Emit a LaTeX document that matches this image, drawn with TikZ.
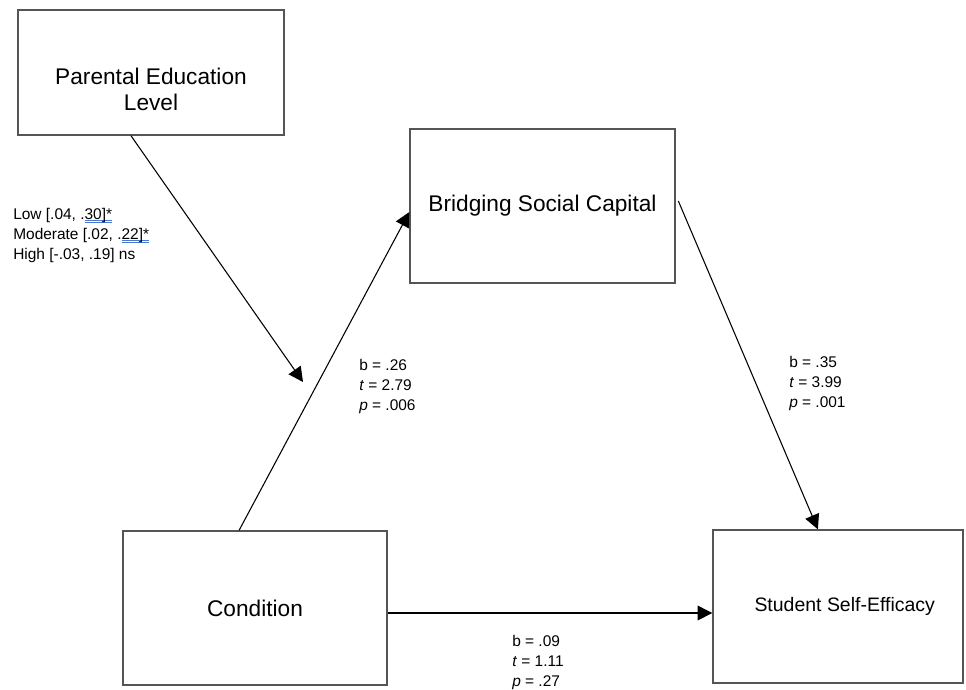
\documentclass[tikz,border=0pt]{standalone}
\usepackage{fontspec}
\setmainfont{Liberation Sans}
\usetikzlibrary{arrows.meta, positioning, calc}
\definecolor{ink}{HTML}{000000}
\definecolor{frame}{HTML}{555555}
\definecolor{spell}{HTML}{4A78D0}
\newcommand{\spellmark}[1]{\setbox0=\hbox{#1}%
  \rlap{\color{spell}\rule[-1.4pt]{\wd0}{0.5pt}}%
  \rlap{\color{spell}\rule[-3.0pt]{\wd0}{0.5pt}}\box0}
\tikzset{
  box/.style={draw=frame, line width=1pt, fill=white, align=center,
              inner sep=4pt, font=\fontsize{17}{19.5}\selectfont, text=ink},
  boxtext/.style={align=center, inner sep=0pt, font=\fontsize{17}{19.5}\selectfont, text=ink},
  stat/.style={align=left, anchor=west, inner sep=0pt,
               font=\fontsize{11.6}{15}\selectfont, text=ink},
  fl/.style={-{Triangle[length=11pt, width=11pt]}, line width=0.8pt, draw=ink},
}
\begin{document}
\begin{tikzpicture}[x=0.75pt, y=-0.75pt]
  \useasboundingbox (0,0) rectangle (966,689);
  % boxes
  \node[box, minimum width=199.5pt, minimum height=93.75pt] (par) at (151,72.5) {};
  \node[boxtext] (partxt) at (151,89) {Parental Education\\Level};
  \node[box, minimum width=198.75pt, minimum height=115.5pt] (bsc) at (542.5,206)
    {Bridging Social Capital};
  \node[box, minimum width=198pt, minimum height=115.5pt] (cond) at (255,608)
    {Condition};
  \node[box, minimum width=187.5pt, minimum height=114.75pt,
        font=\fontsize{14.6}{17}\selectfont] (sse) at (838,606.5)
    {\hspace*{10pt}Student Self-Efficacy};
  % paths
  \coordinate (mod) at (303,382);
  \draw[fl] ($(par.south west)!0.425!(par.south east)$) -- (mod);
  \draw[fl] ($(cond.north west)!0.44!(cond.north east)$) -- ([yshift=-4.5pt]bsc.west);
  \draw[fl] ([xshift=2pt, yshift=3.75pt]bsc.east) -- ($(sse.north west)!0.42!(sse.north east)$);
  \draw[fl] ([yshift=-3.75pt]cond.east) -- ([yshift=-3.75pt]cond.east -| sse.west);
  % coefficients
  \node[stat] (lblmod) at (13,235)
    {Low [.04, .\spellmark{30]*}\\Moderate [.02, .\spellmark{22]*}\\High [-.03, .19] ns};
  \node[stat] (lblab) at (359,386) {b = .26\\\textit{t} = 2.79\\\textit{p} = .006};
  \node[stat] (lblbc) at (789,383) {b = .35\\\textit{t} = 3.99\\\textit{p} = .001};
  \node[stat] (lblac) at (512,662) {b = .09\\\textit{t} = 1.11\\\textit{p} = .27};
\end{tikzpicture}
\end{document}
